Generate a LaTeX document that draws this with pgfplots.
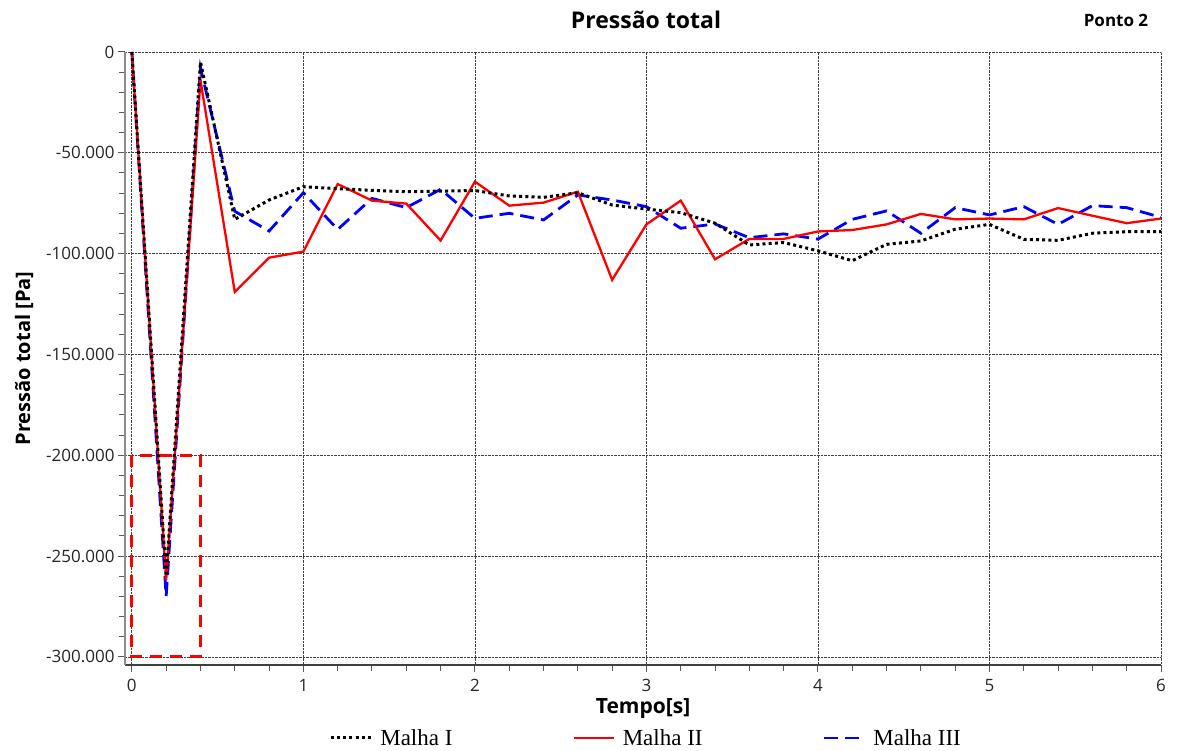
\documentclass[border=0pt]{standalone}
\usepackage{fontspec}
\setmainfont{Open Sans}
\newfontfamily\seriffont{Liberation Serif}
\usepackage{pgfplots}
\pgfplotsset{compat=1.18}
\pgfplotstableread{
t I II III
0.0 0 0 0
0.2 -260000 -262000 -270000
0.4 -5000 -14000 -8000
0.6 -83000 -119000 -79000
0.8 -73400 -102000 -88800
1.0 -66800 -99000 -69800
1.2 -67800 -65500 -88000
1.4 -68600 -73700 -72600
1.6 -69300 -75200 -77200
1.8 -69000 -93500 -68100
2.0 -68700 -64300 -82500
2.2 -71400 -76200 -80000
2.4 -72100 -74700 -83300
2.6 -69800 -69300 -70900
2.8 -75900 -113000 -73400
3.0 -77900 -85500 -76700
3.2 -79700 -73700 -87400
3.4 -84900 -102800 -85300
3.6 -95700 -92700 -92100
3.8 -94500 -92700 -90200
4.0 -98600 -89000 -92800
4.2 -103500 -88300 -83000
4.4 -95400 -85500 -78800
4.6 -93700 -80300 -89900
4.8 -87900 -83000 -77200
5.0 -85500 -82600 -80800
5.2 -92900 -83000 -76700
5.4 -93400 -77400 -85500
5.6 -89900 -81200 -76200
5.8 -89100 -84900 -77200
6.0 -89100 -82600 -82000
}\datatable
\begin{document}
\begin{tikzpicture}
\path[use as bounding box] (-125pt,-86pt) rectangle (1053pt,665pt);
\begin{axis}[
  at={(0pt,0pt)}, anchor=south west,
  scale only axis, width=1036pt, height=613pt,
  xmin=-0.04, xmax=6, ymin=-304000, ymax=0,
  axis lines*=left,
  scaled y ticks=false,
  xtick={0,1,2,3,4,5,6},
  minor x tick num=4,
  ytick={-300000,-250000,-200000,-150000,-100000,-50000,0},
  yticklabels={-300.000,-250.000,-200.000,-150.000,-100.000,-50.000,0},
  minor y tick num=4,
  grid=major,
  major grid style={densely dotted, black!75, line width=0.8pt},
  tick align=outside,
  major tick length=7pt, minor tick length=6pt,
  every tick/.style={black!65, line width=1pt},
  x axis line style={black!75, line width=2.2pt},
  y axis line style={black!45, line width=1.3pt},
  /pgf/number format/assume math mode=true,
  ticklabel style={font=\fontsize{17}{17}\selectfont, text=black!85},
  xticklabel style={yshift=-4pt},
  xlabel={Tempo[s]},
  xlabel style={font=\bfseries\fontsize{21}{21}\selectfont, yshift=0pt},
  ylabel={Pressão total [Pa]},
  ylabel style={font=\bfseries\fontsize{20}{20}\selectfont, yshift=6pt},
  legend columns=3,
  reverse legend,
  legend style={at={(0.503,-0.119)}, anchor=center, draw=none, fill=none,
    font=\seriffont\fontsize{23}{23}\selectfont,
    /tikz/every odd column/.append style={column sep=6pt},
    /tikz/every even column/.append style={column sep=118pt}},
  legend image code/.code={\draw[#1] (0pt,0pt) -- (40pt,0pt);},
]
\addplot[blue, line width=2.8pt, dash pattern=on 14pt off 7pt] table[x=t,y=III] {\datatable};
\addlegendentry{Malha III}
\addplot[red, line width=2.3pt] table[x=t,y=II] {\datatable};
\addlegendentry{Malha II}
\addplot[black, line width=3pt, dash pattern=on 3pt off 3.2pt] table[x=t,y=I] {\datatable};
\addlegendentry{Malha I}
\draw[red, line width=3pt, dash pattern=on 12pt off 8pt] (axis cs:0,-200000) rectangle (axis cs:0.4,-300000);
\end{axis}
\node[font=\bfseries\fontsize{23}{23}\selectfont] at (521pt,645pt) {Pressão total};
\node[font=\bfseries\fontsize{17}{17}\selectfont] at (991pt,645pt) {Ponto 2};
\end{tikzpicture}
\end{document}
